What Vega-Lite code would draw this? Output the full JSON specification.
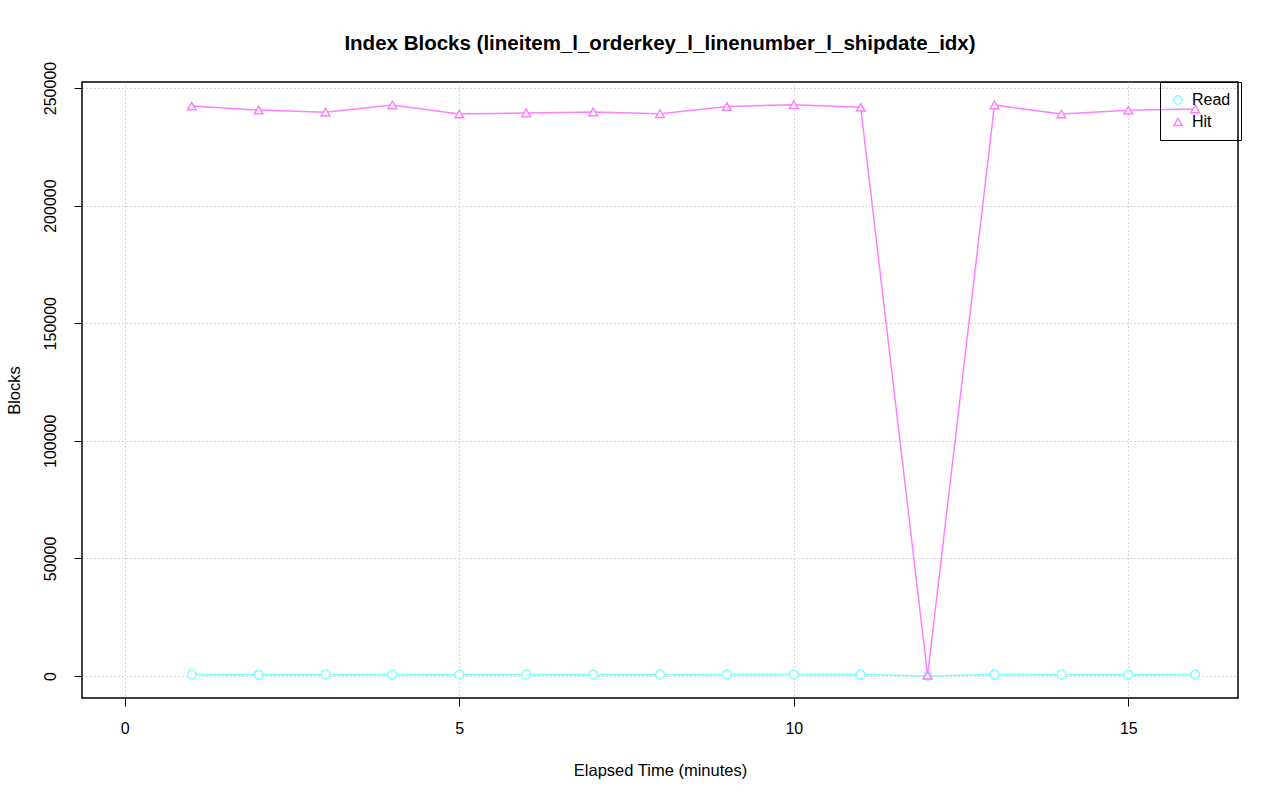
{
  "$schema": "https://vega.github.io/schema/vega-lite/v6.json",
  "autosize": {"type": "none"},
  "width": 1156,
  "height": 616,
  "padding": {"left": 82, "top": 82, "right": 42, "bottom": 103},
  "background": "white",
  "config": {
    "font": "Liberation Sans",
    "view": {"stroke": "black", "strokeWidth": 1.5},
    "axis": {
      "domain": false,
      "tickColor": "black",
      "tickSize": 8,
      "labelFontSize": 16,
      "labelColor": "black",
      "titleFontSize": 16.5,
      "titleFontWeight": "normal",
      "titleColor": "black",
      "grid": true,
      "gridColor": "#b0b0b0",
      "gridDash": [1, 3],
      "gridWidth": 1
    },
    "legend": {
      "title": null,
      "orient": "none",
      "legendX": 1078,
      "legendY": 0,
      "strokeColor": "black",
      "fillColor": "transparent",
      "padding": 10,
      "labelFontSize": 16,
      "labelColor": "black",
      "symbolFillColor": "transparent",
      "symbolStrokeWidth": 1.5,
      "symbolSize": 70,
      "rowPadding": 6,
      "labelOffset": 6
    }
  },
  "title": {
    "text": "Index Blocks (lineitem_l_orderkey_l_linenumber_l_shipdate_idx)",
    "fontSize": 20.5,
    "fontWeight": "bold",
    "anchor": "middle",
    "offset": 7,
    "color": "black"
  },
  "data": {
    "values": [
      {"minute": 1, "series": "Read", "blocks": 600},
      {"minute": 2, "series": "Read", "blocks": 550},
      {"minute": 3, "series": "Read", "blocks": 580},
      {"minute": 4, "series": "Read", "blocks": 600},
      {"minute": 5, "series": "Read", "blocks": 560},
      {"minute": 6, "series": "Read", "blocks": 570},
      {"minute": 7, "series": "Read", "blocks": 560},
      {"minute": 8, "series": "Read", "blocks": 570},
      {"minute": 9, "series": "Read", "blocks": 600},
      {"minute": 10, "series": "Read", "blocks": 620},
      {"minute": 11, "series": "Read", "blocks": 590},
      {"minute": 12, "series": "Read", "blocks": 0},
      {"minute": 13, "series": "Read", "blocks": 610},
      {"minute": 14, "series": "Read", "blocks": 560},
      {"minute": 15, "series": "Read", "blocks": 580},
      {"minute": 16, "series": "Read", "blocks": 590},
      {"minute": 1, "series": "Hit", "blocks": 242300},
      {"minute": 2, "series": "Hit", "blocks": 240600},
      {"minute": 3, "series": "Hit", "blocks": 239700},
      {"minute": 4, "series": "Hit", "blocks": 242800},
      {"minute": 5, "series": "Hit", "blocks": 238900},
      {"minute": 6, "series": "Hit", "blocks": 239400},
      {"minute": 7, "series": "Hit", "blocks": 239800},
      {"minute": 8, "series": "Hit", "blocks": 239100},
      {"minute": 9, "series": "Hit", "blocks": 242100},
      {"minute": 10, "series": "Hit", "blocks": 242900},
      {"minute": 11, "series": "Hit", "blocks": 241800},
      {"minute": 12, "series": "Hit", "blocks": 300},
      {"minute": 13, "series": "Hit", "blocks": 242800},
      {"minute": 14, "series": "Hit", "blocks": 238900},
      {"minute": 15, "series": "Hit", "blocks": 240500},
      {"minute": 16, "series": "Hit", "blocks": 241100}
    ]
  },
  "encoding": {
    "x": {
      "field": "minute",
      "type": "quantitative",
      "scale": {"domain": [-0.64, 16.64], "nice": false, "zero": false},
      "axis": {"values": [0, 5, 10, 15], "title": "Elapsed Time (minutes)", "labelPadding": 14, "titlePadding": 26}
    },
    "y": {
      "field": "blocks",
      "type": "quantitative",
      "scale": {"domain": [-9354, 252551], "nice": false, "zero": false},
      "axis": {"values": [0, 50000, 100000, 150000, 200000, 250000], "title": "Blocks", "labelAngle": -90, "labelAlign": "center", "labelBaseline": "bottom", "labelPadding": 16, "titlePadding": 20, "format": "d"}
    },
    "color": {
      "field": "series",
      "type": "nominal",
      "scale": {"domain": ["Read", "Hit"], "range": ["#80ffff", "#ff80ff"]}
    }
  },
  "layer": [
    {"mark": {"type": "line", "strokeWidth": 1.5}, "encoding": {"detail": {"field": "series"}}},
    {
      "mark": {"type": "point", "filled": false, "fill": "white", "fillOpacity": 1, "strokeWidth": 1.5, "size": 75, "opacity": 1},
      "encoding": {
        "shape": {
          "field": "series",
          "type": "nominal",
          "scale": {"domain": ["Read", "Hit"], "range": ["circle", "triangle-up"]}
        }
      }
    }
  ]
}
